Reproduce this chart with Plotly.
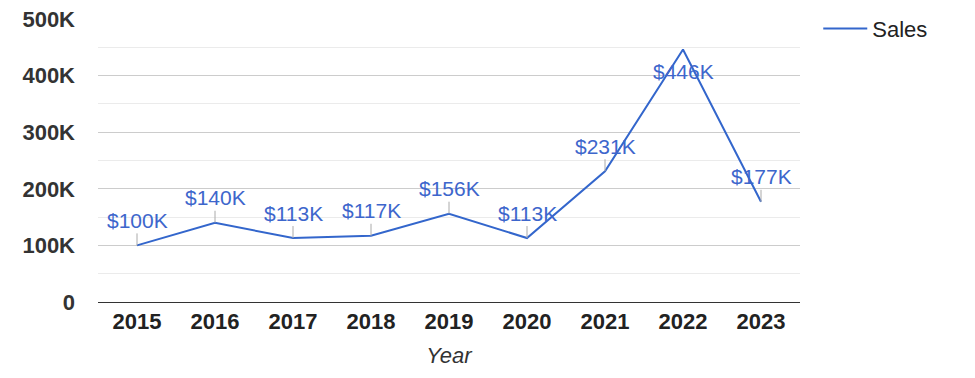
import plotly.graph_objects as go

years = ["2015", "2016", "2017", "2018", "2019", "2020", "2021", "2022", "2023"]
sales = [100000, 140000, 113000, 117000, 156000, 113000, 231000, 446000, 177000]
labels = ["$100K", "$140K", "$113K", "$117K", "$156K", "$113K", "$231K", "$446K", "$177K"]
y_tickvals = [0, 100000, 200000, 300000, 400000, 500000]
y_ticktext = ["0", "100K", "200K", "300K", "400K", "500K"]

LINE = "#3366cc"
FONT = "Liberation Sans, Arial, sans-serif"

fig = go.Figure()
fig.add_trace(go.Scatter(
    x=years, y=sales, mode="lines", name="Sales",
    line=dict(color=LINE, width=2),
))

for i, (yr, v, t) in enumerate(zip(years, sales, labels)):
    if i == 7:
        fig.add_annotation(
            x=i, y=v, xref="x", yref="y", text=t, showarrow=False,
            yshift=-22, font=dict(family=FONT, size=21, color="#3d66cc"),
        )
    else:
        fig.add_annotation(
            x=i, y=v, xref="x", yref="y", text=t, showarrow=True,
            arrowhead=0, arrowwidth=1, arrowcolor="#aaaaaa", ax=0, ay=-25,
            font=dict(family=FONT, size=21, color="#3d66cc"),
        )

fig.update_layout(
    width=975, height=378,
    margin=dict(l=98, r=175, t=19, b=76, autoexpand=False),
    paper_bgcolor="white", plot_bgcolor="white",
    font=dict(family=FONT, size=22, color="#222222"),
    showlegend=True,
    legend=dict(x=1.026, y=1.04, xanchor="left", yanchor="top", itemwidth=44,
                font=dict(family=FONT, size=22, color="#222222"),
                bgcolor="rgba(0,0,0,0)"),
    xaxis=dict(
        type="category", range=[-0.5, 8.5], automargin=False,
        showgrid=False, showline=True, linecolor="#333333", linewidth=1,
        ticks="", tickfont=dict(family=FONT, size=22, color="#222222", weight="bold"),
        title=dict(text="<i>Year</i>", font=dict(family=FONT, size=22, color="#333333"), standoff=14),
        fixedrange=True,
    ),
    yaxis=dict(
        range=[0, 500000], tickvals=y_tickvals, ticktext=y_ticktext, automargin=False,
        showgrid=True, gridcolor="#cccccc", gridwidth=1, zeroline=False,
        minor=dict(dtick=50000, showgrid=True, gridcolor="#ebebeb", gridwidth=1),
        ticks="", ticklabelstandoff=22,
        tickfont=dict(family=FONT, size=22, color="#333333", weight="bold"),
        fixedrange=True,
    ),
)

fig.write_html("out.html", config={"displayModeBar": False},
               post_script="document.body.style.margin='0px';")
